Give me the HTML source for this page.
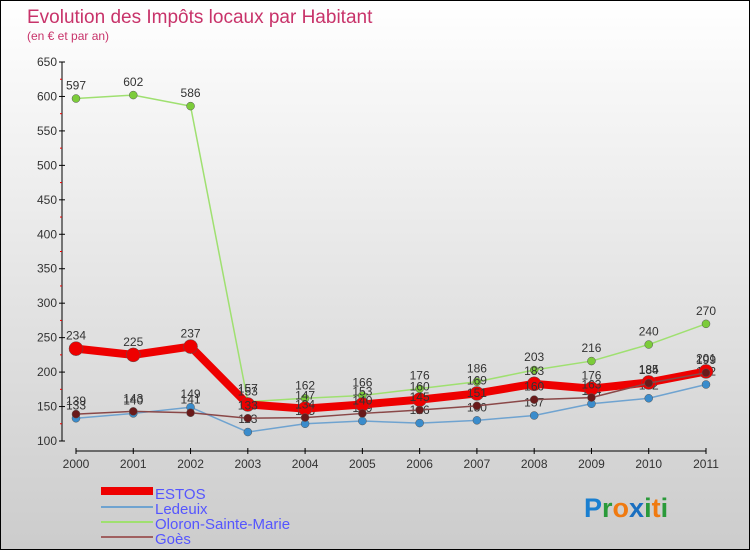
<!DOCTYPE html>
<html><head><meta charset="utf-8"><style>
body{margin:0}
#c{width:750px;height:550px;position:relative;box-sizing:border-box;border:1px solid #000;background:linear-gradient(#fff,#ccc);font-family:"Liberation Sans",sans-serif;overflow:hidden}
</style></head><body>
<div id="c">
<svg id="s" width="748" height="548" style="position:absolute;left:0;top:0">
<text x="26" y="22" font-size="19" fill="#c8336a">Evolution des Impôts locaux par Habitant</text>
<text x="26" y="39" font-size="12" fill="#c8336a">(en € et par an)</text>
<g id="axes"></g><g id="series"></g>
<g font-size="15" fill="#5555ff">
<rect x="100" y="486" width="52" height="8" fill="#ee0000"/>
<text x="154" y="498">ESTOS</text>
<rect x="100" y="505" width="52" height="2" fill="#6fa3d0"/>
<text x="154" y="513">Ledeuix</text>
<rect x="100" y="520" width="52" height="2" fill="#9fe070"/>
<text x="154" y="528">Oloron-Sainte-Marie</text>
<rect x="100" y="535" width="52" height="2" fill="#a06060"/>
<text x="154" y="543">Goès</text>
</g>
<text x="583" y="516" font-size="27" font-weight="bold"><tspan fill="#1a7fd0">P</tspan><tspan fill="#2a9a3a">r</tspan><tspan fill="#f07a10">o</tspan><tspan fill="#1a6fc0">x</tspan><tspan fill="#2a9a3a">i</tspan><tspan fill="#f07a10">t</tspan><tspan fill="#2a9a3a">i</tspan></text>
</svg>
</div>
<script>
const years=["2000","2001","2002","2003","2004","2005","2006","2007","2008","2009","2010","2011"];
const yTicks=[100,150,200,250,300,350,400,450,500,550,600,650];
const estos=[234,225,237,153,147,153,160,169,183,176,185,201];
const ledeuix=[133,140,149,113,125,129,126,130,137,154,162,182];
const oloron=[597,602,586,157,162,166,176,186,203,216,240,270];
const goes=[139,143,141,133,134,140,145,151,160,163,184,199];
const NS="http://www.w3.org/2000/svg";
const xs=i=>75+i*(630/11);
const ys=v=>440-(v-100)*(379/550);
function mk(t,a,p){const e=document.createElementNS(NS,t);for(const k in a)e.setAttribute(k,a[k]);p.appendChild(e);return e;}
const ax=document.getElementById('axes');
let l=mk('line',{x1:61,y1:61,x2:61,y2:440,stroke:'#000'},ax);


yTicks.forEach(v=>{
 const tk=mk('line',{x1:58,x2:64,y1:ys(v),y2:ys(v),stroke:'#000'},ax);
 
 
 const t=mk('text',{x:56,y:ys(v)+4,'text-anchor':'end','font-size':12,fill:'#333'},ax);t.textContent=v;
 
 
 if(v<650){const m=mk('line',{x1:59,x2:61,y1:ys(v+25),y2:ys(v+25),stroke:'#e00'},ax);
 
 }
});
l=mk('line',{x1:75,y1:450,x2:705,y2:450,stroke:'#000'},ax);


years.forEach((y,i)=>{
 const tk=mk('line',{x1:xs(i),x2:xs(i),y1:447,y2:453,stroke:'#000'},ax);
 
 
 const t=mk('text',{x:xs(i),y:467,'text-anchor':'middle','font-size':12,fill:'#333'},ax);t.textContent=y;
 
 
});
const sg=document.getElementById('series');
function draw(name,vals,col,w,r,dot){
 const g=mk('g',{},sg);
 
 
 const p=mk('polyline',{points:vals.map((v,i)=>xs(i)+','+ys(v)).join(' '),fill:'none',stroke:col,'stroke-width':w,'stroke-linejoin':'round'},g);
 
 
 vals.forEach((v,i)=>{
  const c=mk('circle',{cx:xs(i),cy:ys(v),r:r,fill:dot,stroke:'#555','stroke-width':0.5},g);
  
  
  const t=mk('text',{x:xs(i),y:ys(v)-9,'text-anchor':'middle','font-size':12,fill:'#333'},g);t.textContent=v;
  
  
 });
}
draw('ledeuix',ledeuix,'#6fa3d0',1.5,4,'#3a8ccc');
draw('oloron',oloron,'#9fe070',1.5,4,'#7ccc3a');
draw('estos',estos,'#ee0000',8,7,'#ee0000');
draw('goes',goes,'#8a4848',1.5,4,'#6a1a1a');
</script>
</body></html>
